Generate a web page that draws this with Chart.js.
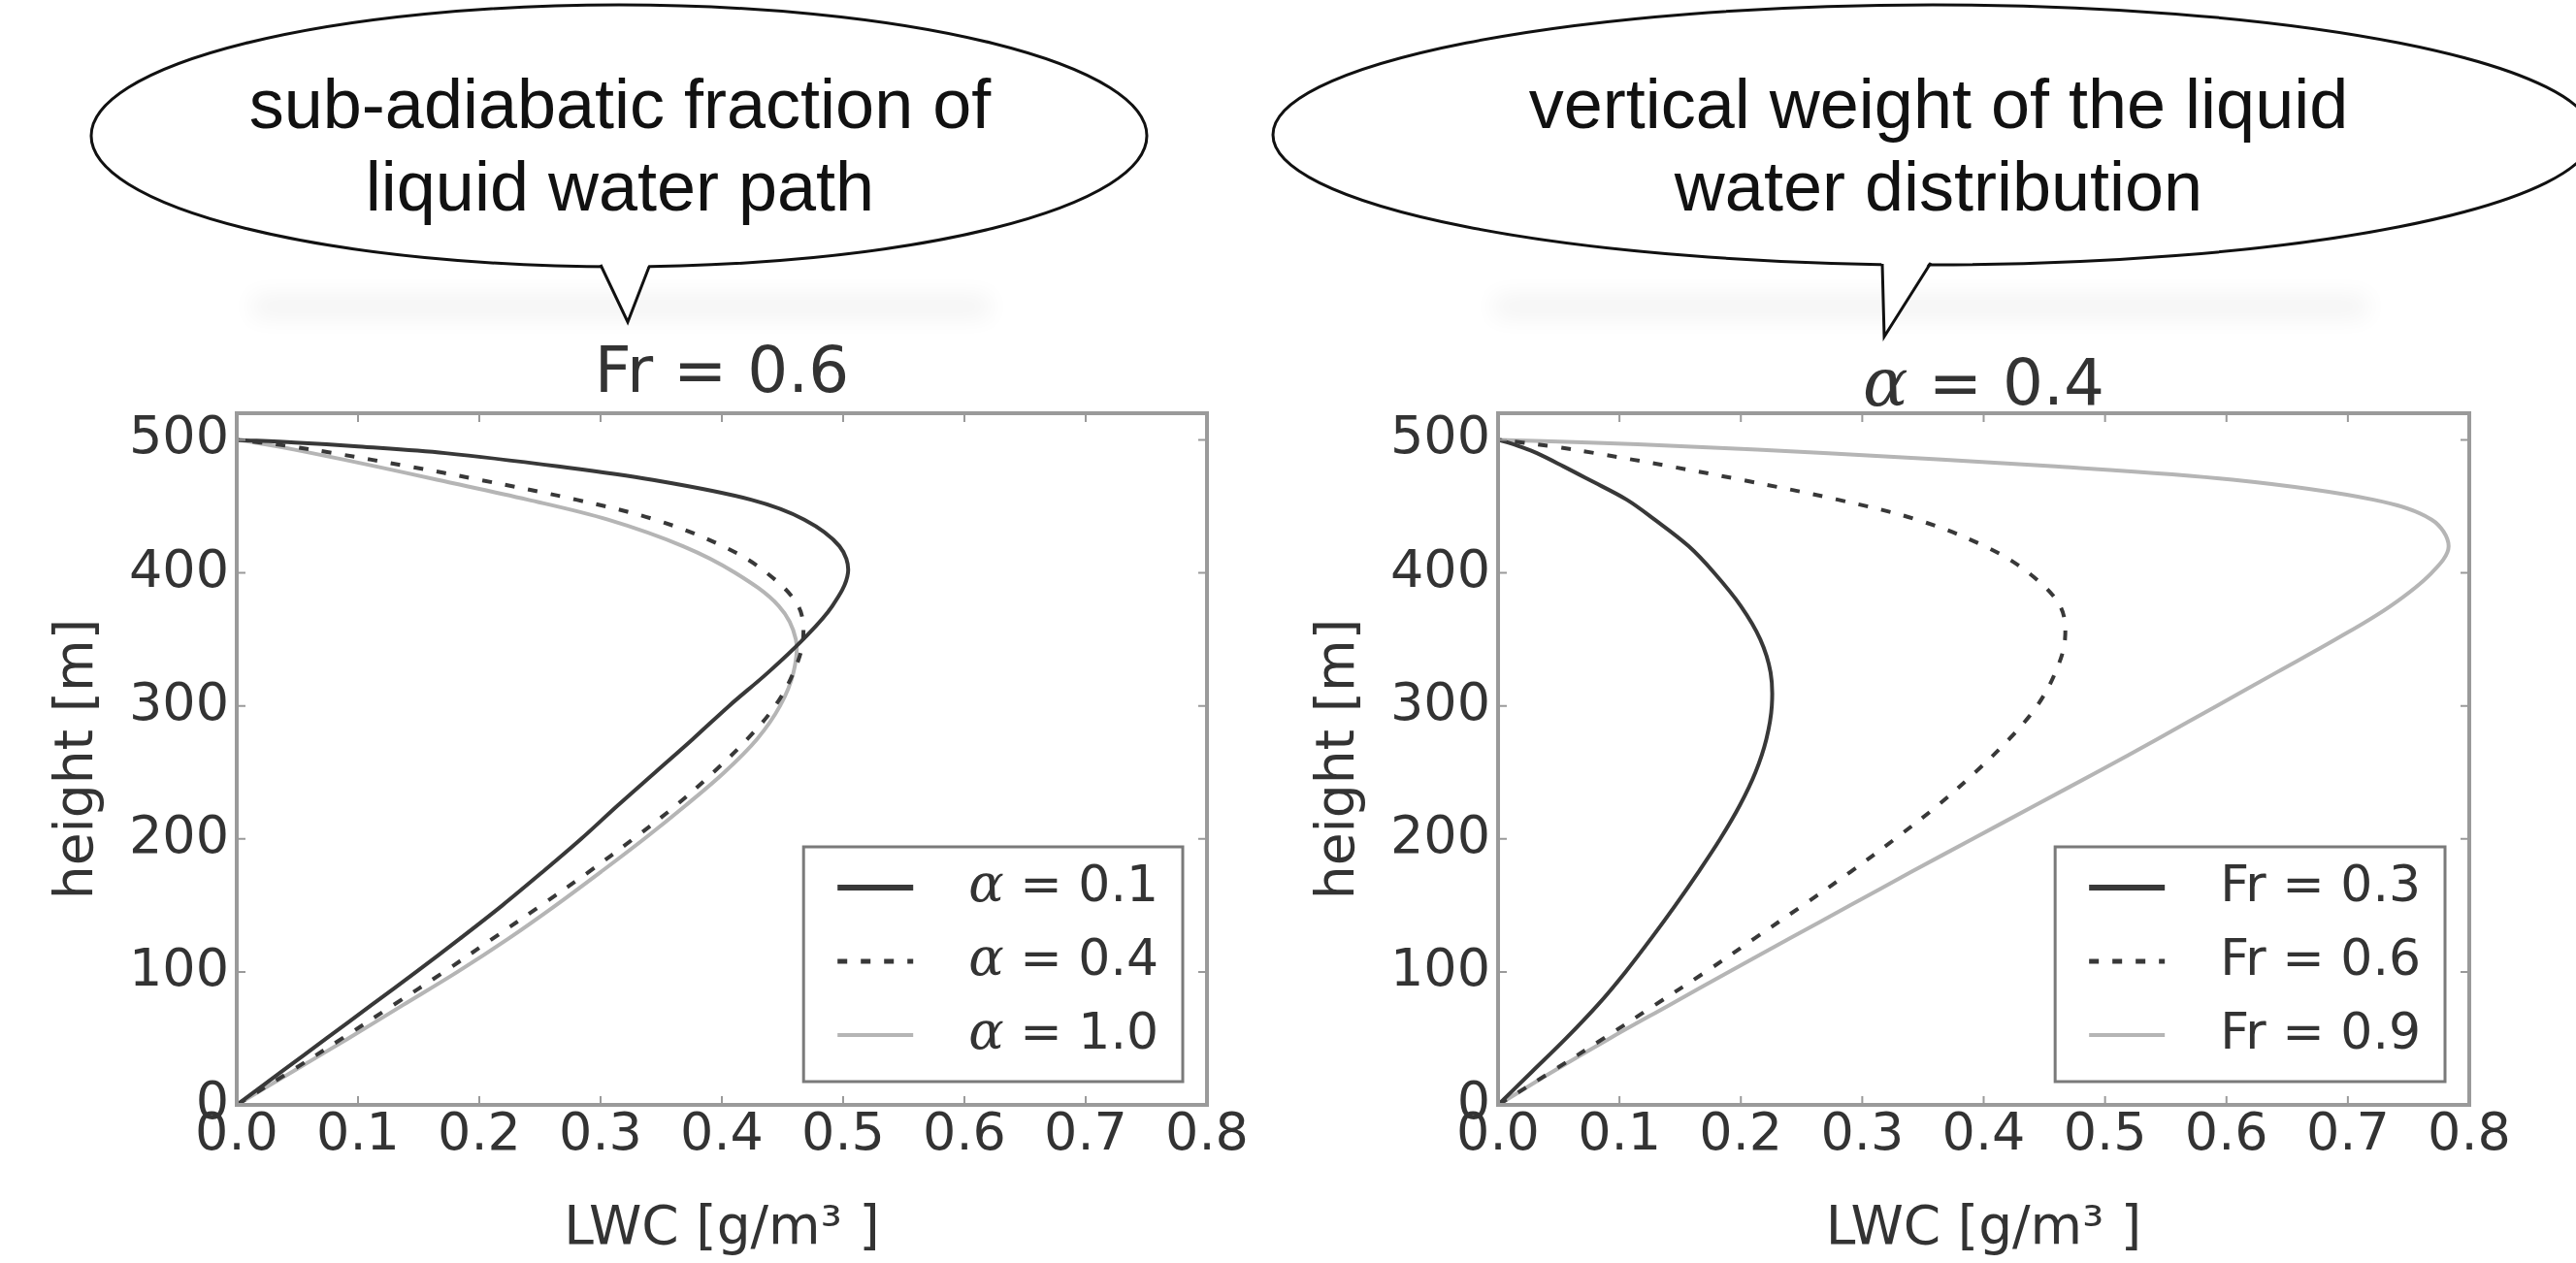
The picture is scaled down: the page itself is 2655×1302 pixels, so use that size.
<!DOCTYPE html>
<html>
<head>
<meta charset="utf-8">
<title>LWC profiles</title>
<script src="https://cdn.jsdelivr.net/npm/chart.js@4.4.1/dist/chart.umd.min.js"></script>
<style>
  body { margin: 0; background: #fff; width: 2655px; height: 1302px; overflow: hidden; position: relative; }
  .plot { position: absolute; top: 330px; height: 972px; }
  #leftWrap { left: 0; width: 1300px; }
  #rightWrap { left: 1300px; width: 1355px; }
  #bubbles { position: absolute; left: 0; top: 0; pointer-events: none; }
  #bubbles text { font-family: "Liberation Sans", Arial, sans-serif; font-size: 72px; fill: #111; }
</style>
</head>
<body>

<div class="plot" id="leftWrap"><canvas id="leftChart"></canvas></div>
<div class="plot" id="rightWrap"><canvas id="rightChart"></canvas></div>

<svg id="bubbles" width="2655" height="400" viewBox="0 0 2655 400">
  <defs>
    <filter id="soft" x="-20%" y="-200%" width="140%" height="500%">
      <feGaussianBlur stdDeviation="12"/>
    </filter>
  </defs>
  <!-- faint shadows under the bubbles -->
  <rect x="260" y="305" width="760" height="22" fill="#000" opacity="0.05" filter="url(#soft)"/>
  <rect x="1540" y="305" width="900" height="22" fill="#000" opacity="0.05" filter="url(#soft)"/>

  <ellipse cx="638" cy="140" rx="544" ry="135" fill="#fff" stroke="#111" stroke-width="3"/>
  <path d="M617 266 L647 332 L671 266 Z" fill="#fff"/>
  <polyline points="619,273 647,332 669,275" fill="none" stroke="#111" stroke-width="3"/>
  <text x="639" y="132" text-anchor="middle">sub-adiabatic fraction of</text>
  <text x="639" y="217" text-anchor="middle">liquid water path</text>

  <ellipse cx="1992" cy="139" rx="680" ry="134" fill="#fff" stroke="#111" stroke-width="3"/>
  <path d="M1939 264 L1942 347 L1992 264 Z" fill="#fff"/>
  <polyline points="1940,272 1942,347 1990,271" fill="none" stroke="#111" stroke-width="3"/>
  <text x="1998" y="132" text-anchor="middle">vertical weight of the liquid</text>
  <text x="1998" y="217" text-anchor="middle">water distribution</text>
</svg>

<script>
// heights [m] at which the profiles were read
const heights = [0, 25, 50, 75, 100, 125, 150, 175, 200, 225, 250, 275, 300, 325, 350, 375, 400, 420, 440, 455, 470, 480, 490, 495, 498, 500];

// LWC [g/m3], left panel (Fr = 0.6)
const lwcAlpha01 = [0, 0.037, 0.074, 0.111, 0.148, 0.184, 0.219, 0.252, 0.284, 0.314, 0.345, 0.376, 0.406, 0.438, 0.467, 0.491, 0.504, 0.497, 0.468, 0.424, 0.342, 0.265, 0.172, 0.100, 0.048, 0];
const lwcAlpha04 = [0, 0.044, 0.087, 0.129, 0.171, 0.211, 0.251, 0.290, 0.327, 0.362, 0.393, 0.421, 0.444, 0.459, 0.467, 0.463, 0.437, 0.401, 0.345, 0.280, 0.200, 0.142, 0.080, 0.045, 0.020, 0];
const lwcAlpha10 = [0, 0.046, 0.092, 0.137, 0.182, 0.224, 0.263, 0.300, 0.336, 0.370, 0.402, 0.429, 0.448, 0.459, 0.461, 0.447, 0.411, 0.368, 0.306, 0.240, 0.165, 0.115, 0.062, 0.034, 0.015, 0];

// LWC [g/m3], right panel (alpha = 0.4); Fr = 0.6 is the same curve as alpha = 0.4 above
const lwcFr03 = [0, 0.028, 0.056, 0.082, 0.105, 0.126, 0.146, 0.165, 0.183, 0.199, 0.212, 0.221, 0.2255, 0.2245, 0.216, 0.200, 0.178, 0.157, 0.129, 0.106, 0.075, 0.054, 0.032, 0.018, 0.008, 0];
const lwcFr06 = lwcAlpha04;
const lwcFr09 = [0, 0.045, 0.092, 0.141, 0.190, 0.240, 0.290, 0.340, 0.391, 0.442, 0.493, 0.543, 0.592, 0.641, 0.690, 0.735, 0.769, 0.783, 0.769, 0.721, 0.605, 0.459, 0.272, 0.155, 0.075, 0];

const leftLabels = ['α = 0.1', 'α = 0.4', 'α = 1.0'];
const rightLabels = ['Fr = 0.3', 'Fr = 0.6', 'Fr = 0.9'];

const xTicks = [0, 0.1, 0.2, 0.3, 0.4, 0.5, 0.6, 0.7, 0.8];
const yTicks = [0, 100, 200, 300, 400, 500];

const FONT = '"DejaVu Sans", sans-serif';
const TEXT = '#333';
const DARK = '#383838';
const LIGHT = '#b5b5b5';

const toPoints = vals => heights.map((h, i) => ({x: vals[i], y: h}));

const lineStyles = [
  {borderColor: DARK, borderWidth: 4, borderDash: [], legendWidth: 6},
  {borderColor: DARK, borderWidth: 4, borderDash: [10, 14], legendWidth: 5},
  {borderColor: LIGHT, borderWidth: 4, borderDash: [], legendWidth: 4}
];


//Text with a leading greek alpha set in italic, like matplotlib mathtext
const drawLabel = (ctx, label, x, y, size, draw) => {
  let w = 0;
  let rest = label;
  if (label.startsWith('α')) {
    ctx.font = 'italic ' + Math.round(size * 1.04) + 'px "DejaVu Serif", serif';
    if (draw) ctx.fillText('α', x, y);
    w += ctx.measureText('α').width;
    rest = label.slice(1);
  }
  ctx.font = size + 'px ' + FONT;
  if (draw) ctx.fillText(rest, x + w, y);
  return w + ctx.measureText(rest).width;
};


//Panel title centred over the plot area
const panelTitle = {
  id: 'panelTitle',
  afterDraw(chart, args, opts) {
    const {ctx, chartArea: a} = chart;
    ctx.save();
    ctx.fillStyle = TEXT;
    ctx.textAlign = 'left';
    ctx.textBaseline = 'middle';
    const w = drawLabel(ctx, opts.text, 0, 0, 66, false);
    drawLabel(ctx, opts.text, (a.left + a.right) / 2 - w / 2, opts.y, 66, true);
    ctx.restore();
  }
};


//Frame with inward ticks on all four sides
const frame = {
  id: 'frame',
  afterDatasetsDraw(chart) {
    const {ctx, chartArea: a, scales} = chart;
    ctx.save();
    ctx.strokeStyle = '#9a9a9a';
    ctx.lineWidth = 2;
    ctx.beginPath();
    xTicks.forEach(v => {
      const px = scales.x.getPixelForValue(v);
      ctx.moveTo(px, a.bottom); ctx.lineTo(px, a.bottom - 9);
      ctx.moveTo(px, a.top); ctx.lineTo(px, a.top + 9);
    });
    yTicks.forEach(v => {
      const py = scales.y.getPixelForValue(v);
      ctx.moveTo(a.left, py); ctx.lineTo(a.left + 9, py);
      ctx.moveTo(a.right, py); ctx.lineTo(a.right - 9, py);
    });
    ctx.stroke();
    ctx.lineWidth = 4;
    ctx.strokeRect(a.left, a.top, a.right - a.left, a.bottom - a.top);
    ctx.restore();
  }
};


//Legend box in the lower right corner
const boxLegend = {
  id: 'boxLegend',
  afterDraw(chart) {
    const {ctx, chartArea: a, data} = chart;
    ctx.save();
    ctx.textBaseline = 'middle';
    ctx.textAlign = 'left';
    const textW = Math.max(...data.datasets.map(ds => drawLabel(ctx, ds.label, 0, 0, 52, false)));
    const w = 170 + textW + 25;
    const h = 242;
    const x0 = a.right - 25 - w;
    const y0 = a.bottom - 24 - h;
    ctx.fillStyle = '#fff';
    ctx.fillRect(x0, y0, w, h);
    ctx.strokeStyle = '#7a7a7a';
    ctx.lineWidth = 3;
    ctx.strokeRect(x0, y0, w, h);
    data.datasets.forEach((ds, i) => {
      const y = y0 + 42 + i * 76;
      ctx.strokeStyle = ds.borderColor;
      ctx.lineWidth = ds.legendWidth;
      ctx.setLineDash(ds.borderDash);
      ctx.beginPath();
      ctx.moveTo(x0 + 35, y);
      ctx.lineTo(x0 + 113, y);
      ctx.stroke();
      ctx.setLineDash([]);
      ctx.fillStyle = TEXT;
      drawLabel(ctx, ds.label, x0 + 170, y, 52, true);
    });
    ctx.restore();
  }
};


//Build one panel
const makeChart = (canvasId, title, titleY, series, labels, padRight) => {
  const datasets = series.map((vals, i) => Object.assign({
    label: labels[i],
    data: toPoints(vals),
    pointRadius: 0,
    tension: 0.35,
    fill: false
  }, lineStyles[i]));

  const config = {
    type: 'line',
    data: {datasets: datasets},
    options: {
      responsive: true,
      maintainAspectRatio: false,
      animation: false,
      layout: {padding: {left: 0, right: padRight, top: 96, bottom: 0}},
      plugins: {
        legend: {display: false},
        tooltip: {enabled: false},
        title: {display: false},
        panelTitle: {text: title, y: titleY}
      },
      scales: {
        x: {
          type: 'linear',
          min: 0,
          max: 0.8,
          afterBuildTicks: s => { s.ticks = xTicks.map(v => ({value: v})); },
          afterFit: s => { s.height = 163; },
          grid: {display: false, drawTicks: false},
          border: {display: false},
          ticks: {
            padding: 0,
            autoSkip: false,
            maxRotation: 0,
            color: TEXT,
            font: {family: FONT, size: 54},
            callback: v => v.toFixed(1)
          },
          title: {
            display: true,
            text: 'LWC [g/m³ ]',
            color: TEXT,
            font: {family: FONT, size: 55},
            padding: {top: 0, bottom: 1}
          }
        },
        y: {
          type: 'linear',
          min: 0,
          max: 520,
          afterBuildTicks: s => { s.ticks = yTicks.map(v => ({value: v})); },
          afterFit: s => { s.width = 244; },
          grid: {display: false, drawTicks: false},
          border: {display: false},
          ticks: {
            padding: 8,
            autoSkip: false,
            color: TEXT,
            font: {family: FONT, size: 54},
            callback: v => String(v)
          },
          title: {
            display: true,
            text: 'height [m]',
            color: TEXT,
            font: {family: FONT, size: 55},
            padding: {top: 48, bottom: 0}
          }
        }
      }
    },
    plugins: [frame, boxLegend, panelTitle]
  };

  return new Chart(document.getElementById(canvasId), config);
};

makeChart('leftChart', 'Fr = 0.6', 57, [lwcAlpha01, lwcAlpha04, lwcAlpha10], leftLabels, 56);

makeChart('rightChart', 'α = 0.4', 70, [lwcFr03, lwcFr06, lwcFr09], rightLabels, 110);
</script>
</body>
</html>
